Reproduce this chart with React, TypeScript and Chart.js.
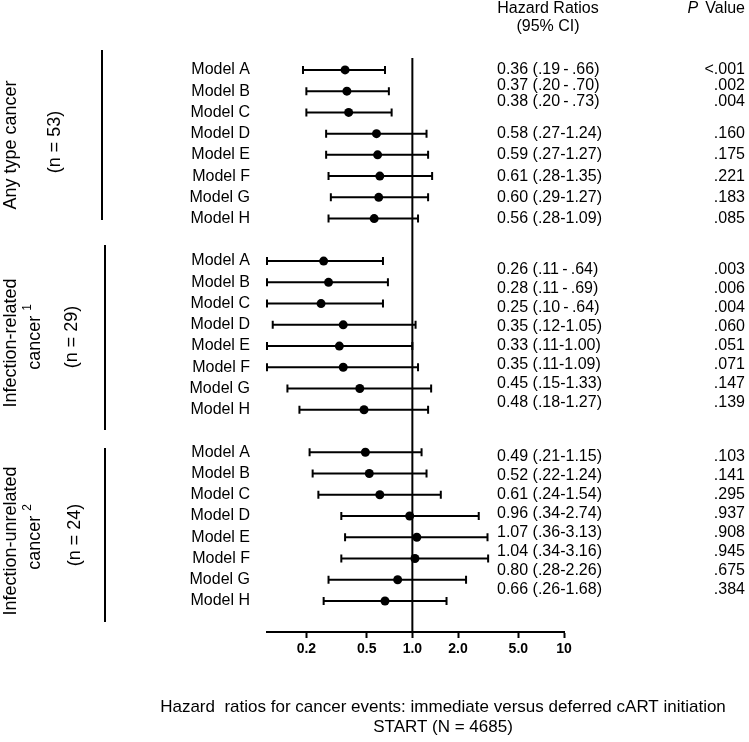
import React, { useEffect, useRef } from "react";
import { Chart, registerables } from "chart.js";

Chart.register(...registerables);

// ---------- data ----------
const MODELS = ["Model A", "Model B", "Model C", "Model D", "Model E", "Model F", "Model G", "Model H"];

const GROUP_TITLES = ["Any type cancer", "Infection-related", "Infection-unrelated"];
const GROUP_SUBTITLES = ["", "cancer", "cancer"];
const GROUP_SUPERSCRIPTS = ["", "1", "2"];
const GROUP_N = ["(n = 53)", "(n = 29)", "(n = 24)"];

const HR_ANY = [0.36, 0.37, 0.38, 0.58, 0.59, 0.61, 0.60, 0.56];
const LO_ANY = [0.19, 0.20, 0.20, 0.27, 0.27, 0.28, 0.29, 0.28];
const HI_ANY = [0.66, 0.70, 0.73, 1.24, 1.27, 1.35, 1.27, 1.09];
const P_ANY = ["<.001", ".002", ".004", ".160", ".175", ".221", ".183", ".085"];

const HR_INF = [0.26, 0.28, 0.25, 0.35, 0.33, 0.35, 0.45, 0.48];
const LO_INF = [0.11, 0.11, 0.10, 0.12, 0.11, 0.11, 0.15, 0.18];
const HI_INF = [0.64, 0.69, 0.64, 1.05, 1.00, 1.09, 1.33, 1.27];
const P_INF = [".003", ".006", ".004", ".060", ".051", ".071", ".147", ".139"];

const HR_NONINF = [0.49, 0.52, 0.61, 0.96, 1.07, 1.04, 0.80, 0.66];
const LO_NONINF = [0.21, 0.22, 0.24, 0.34, 0.36, 0.34, 0.28, 0.26];
const HI_NONINF = [1.15, 1.24, 1.54, 2.74, 3.13, 3.16, 2.26, 1.68];
const P_NONINF = [".103", ".141", ".295", ".937", ".908", ".945", ".675", ".384"];

const TICK_VALUES = [0.2, 0.5, 1, 2, 5, 10];
const TICK_LABELS = ["0.2", "0.5", "1.0", "2.0", "5.0", "10"];

const TITLE_LINES = [
  "Hazard  ratios for cancer events: immediate versus deferred cART initiation",
  "START (N = 4685)",
];

// ---------- derived ----------
const GROUPS = [
  { hr: HR_ANY, lo: LO_ANY, hi: HI_ANY, p: P_ANY },
  { hr: HR_INF, lo: LO_INF, hi: HI_INF, p: P_INF },
  { hr: HR_NONINF, lo: LO_NONINF, hi: HI_NONINF, p: P_NONINF },
];
const ROWS_PER_GROUP = 9; // 8 models + 1 blank spacer

const fmtCI = (v: number) => (v < 1 ? v.toFixed(2).replace(/^0/, "") : v.toFixed(2));
const hrText = (hr: number, lo: number, hi: number) =>
  hi < 1
    ? `${hr.toFixed(2)} (${fmtCI(lo)}\u2009-\u2009${fmtCI(hi)})`
    : `${hr.toFixed(2)} (${fmtCI(lo)}-${fmtCI(hi)})`;

// ---------- layout (text column rows, in y-scale units) ----------
const TEXT_ROWS = [
  [0, 0.75, 1.5, 3, 4, 5, 6, 7],
  [9.42, 10.31, 11.21, 12.1, 13.0, 13.89, 14.78, 15.68],
  [18.22, 19.11, 20.0, 20.89, 21.78, 22.67, 23.56, 24.45],
];

const FONT = '"Liberation Sans", Arial, Helvetica, sans-serif';

const forestPlugin = {
  id: "forest",
  beforeDatasetsDraw(chart: any) {
    const { ctx, chartArea, scales } = chart;
    const x = scales.x;
    const y = scales.y;
    ctx.save();
    ctx.strokeStyle = "#000";
    ctx.lineWidth = 2;
    ctx.lineCap = "butt";
    // reference line at HR = 1
    const x1 = x.getPixelForValue(1);
    ctx.beginPath();
    ctx.moveTo(x1, chartArea.top);
    ctx.lineTo(x1, chartArea.bottom);
    ctx.stroke();
    // confidence intervals
    GROUPS.forEach((g, gi) => {
      g.lo.forEach((lo, i) => {
        const py = y.getPixelForValue(gi * ROWS_PER_GROUP + i);
        const xl = Math.max(x.getPixelForValue(lo), chartArea.left);
        const xr = Math.min(x.getPixelForValue(g.hi[i]), chartArea.right);
        ctx.beginPath();
        ctx.moveTo(xl, py);
        ctx.lineTo(xr, py);
        ctx.moveTo(xl, py - 4);
        ctx.lineTo(xl, py + 4);
        ctx.moveTo(xr, py - 4);
        ctx.lineTo(xr, py + 4);
        ctx.stroke();
      });
    });
    ctx.restore();
  },
  afterDraw(chart: any) {
    const { ctx, scales } = chart;
    const y = scales.y;
    ctx.save();
    ctx.fillStyle = "#000";
    ctx.textBaseline = "middle";

    // model labels
    ctx.font = `16px ${FONT}`;
    ctx.textAlign = "right";
    GROUPS.forEach((g, gi) => {
      MODELS.forEach((m, i) => {
        ctx.fillText(m, 250, y.getPixelForValue(gi * ROWS_PER_GROUP + i));
      });
    });

    // HR text + P values
    GROUPS.forEach((g, gi) => {
      g.hr.forEach((hr, i) => {
        const py = y.getPixelForValue(TEXT_ROWS[gi][i]);
        ctx.textAlign = "left";
        ctx.fillText(hrText(hr, g.lo[i], g.hi[i]), 497, py);
        ctx.textAlign = "right";
        ctx.fillText(g.p[i], 745, py);
      });
    });

    // headers
    ctx.textAlign = "center";
    ctx.fillText("Hazard Ratios", 548, 9);
    ctx.fillText("(95% CI)", 548, 27);
    ctx.textAlign = "right";
    const wValue = ctx.measureText("Value").width;
    ctx.fillText("Value", 745, 9);
    ctx.font = `italic 16px ${FONT}`;
    ctx.fillText("P", 745 - wValue - 7, 9);

    // bottom title
    ctx.font = `17px ${FONT}`;
    ctx.textAlign = "center";
    ctx.fillText(TITLE_LINES[0], 443, 707);
    ctx.fillText(TITLE_LINES[1], 443, 727);

    // group labels (rotated)
    const groupPos = [
      { tx: 11, ty: 145, sx: 35, sy: 145, nx: 55, ny: 142, lx: 102, l0: 50, l1: 220 },
      { tx: 11, ty: 343, sx: 35, sy: 337, nx: 72, ny: 337, lx: 105, l0: 245, l1: 430 },
      { tx: 11, ty: 541, sx: 35, sy: 537, nx: 75, ny: 535, lx: 105, l0: 448, l1: 622 },
    ];
    groupPos.forEach((p, gi) => {
      const rot = (text: string, cx: number, cy: number, sup?: string) => {
        ctx.save();
        ctx.translate(cx, cy);
        ctx.rotate(-Math.PI / 2);
        ctx.textAlign = "center";
        ctx.font = `18px ${FONT}`;
        if (sup) {
          const w1 = ctx.measureText(text + " ").width;
          ctx.font = `12px ${FONT}`;
          const w2 = ctx.measureText(sup).width;
          const start = -(w1 + w2) / 2;
          ctx.textAlign = "left";
          ctx.font = `18px ${FONT}`;
          ctx.fillText(text + " ", start, 0);
          ctx.font = `12px ${FONT}`;
          ctx.fillText(sup, start + w1, -7);
        } else {
          ctx.fillText(text, 0, 0);
        }
        ctx.restore();
      };
      rot(GROUP_TITLES[gi], p.tx, p.ty);
      if (GROUP_SUBTITLES[gi]) rot(GROUP_SUBTITLES[gi], p.sx, p.sy, GROUP_SUPERSCRIPTS[gi]);
      rot(GROUP_N[gi], p.nx, p.ny);
      ctx.strokeStyle = "#000";
      ctx.lineWidth = 2;
      ctx.beginPath();
      ctx.moveTo(p.lx, p.l0);
      ctx.lineTo(p.lx, p.l1);
      ctx.stroke();
    });

    ctx.restore();
  },
};

export default function App() {
  const canvasRef = useRef<HTMLCanvasElement | null>(null);

  useEffect(() => {
    const canvas = canvasRef.current;
    if (!canvas) return;
    const points: { x: number; y: number }[] = [];
    GROUPS.forEach((g, gi) => g.hr.forEach((hr, i) => points.push({ x: hr, y: gi * ROWS_PER_GROUP + i })));

    const chart = new Chart(canvas, {
      type: "scatter",
      data: {
        datasets: [
          {
            data: points,
            pointRadius: 4.5,
            pointHoverRadius: 4.5,
            pointBackgroundColor: "#000",
            pointBorderWidth: 0,
            borderColor: "#000",
          },
        ],
      },
      options: {
        animation: false,
        responsive: false,
        devicePixelRatio: 1,
        layout: { padding: { left: 267, right: 185, top: 58, bottom: 80 } },
        plugins: { legend: { display: false }, tooltip: { enabled: false } },
        scales: {
          x: {
            type: "logarithmic",
            min: 0.11,
            max: 10,
            position: "bottom",
            border: { display: true, color: "#000", width: 2 },
            grid: {
              display: true,
              drawOnChartArea: false,
              drawTicks: true,
              tickLength: 6,
              tickColor: "#000",
              tickWidth: 2,
              color: "#000",
            },
            ticks: {
              autoSkip: false,
              maxRotation: 0,
              padding: 3,
              color: "#000",
              font: { family: FONT, size: 14, weight: "bold" },
              callback: (_v: any, index: number) => TICK_LABELS[index],
            },
            afterBuildTicks: (scale: any) => {
              scale.ticks = TICK_VALUES.map((v) => ({ value: v }));
            },
            afterFit: (scale: any) => {
              scale.height = 30;
            },
          },
          y: {
            type: "linear",
            reverse: true,
            min: -0.56,
            max: 26.46,
            display: false,
          },
        },
      },
      plugins: [forestPlugin],
    } as any);

    return () => chart.destroy();
  }, []);

  return (
    <div style={{ position: "absolute", left: 0, top: 0, width: 749, height: 742, background: "#fff" }}>
      <canvas ref={canvasRef} width={749} height={742} style={{ display: "block" }} />
    </div>
  );
}
